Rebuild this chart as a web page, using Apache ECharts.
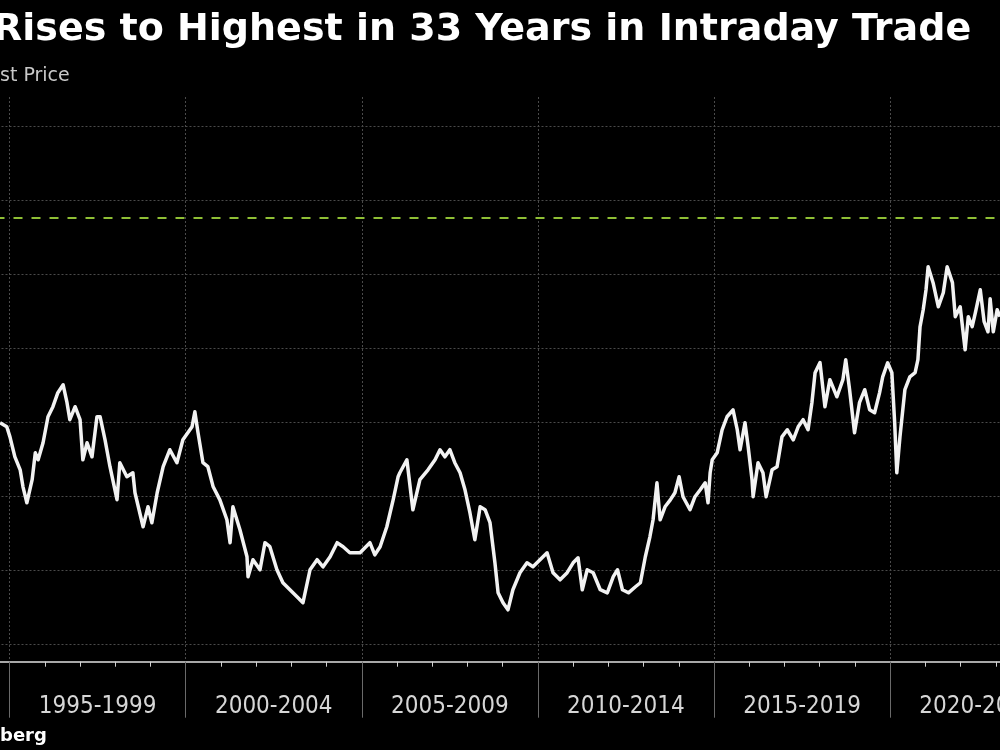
<!DOCTYPE html>
<html>
<head>
<meta charset="utf-8">
<script src="https://cdn.jsdelivr.net/npm/echarts@6/dist/echarts.min.js"></script>
<style>
html,body{margin:0;padding:0;background:#000;overflow:hidden;width:1000px;height:750px;}
#chart{position:absolute;left:-167px;top:0;width:1234px;height:750px;}
</style>
</head>
<body>
<div id="chart"></div>
<script>
// Period labels (bands of five years)
const periodLabels = ["1990-1994","1995-1999","2000-2004","2005-2009","2010-2014","2015-2019","2020-2024"];
// Horizontal grid levels
const gridLevels = [5000,10000,15000,20000,25000,30000,35000,40000];
// Intraday high reference level (dashed)
const highLevel = 33800;

// Dates as decimal years
const years = [
1994.73,1994.92,1995.01,1995.15,1995.30,1995.38,1995.49,1995.64,1995.73,1995.81,1995.95,
1996.09,1996.23,1996.37,1996.52,1996.63,1996.71,1996.86,1997.00,1997.08,1997.20,1997.34,
1997.48,1997.57,1997.71,1997.85,1998.05,1998.13,1998.33,1998.50,1998.56,1998.79,1998.93,
1999.04,1999.19,1999.36,1999.55,1999.75,1999.92,2000.18,2000.26,2000.35,2000.49,2000.63,
2000.78,2000.97,2001.17,2001.26,2001.34,2001.54,2001.74,2001.77,2001.91,2002.11,2002.25,
2002.39,2002.59,2002.76,2002.96,2003.16,2003.33,2003.53,2003.73,2003.90,2004.10,2004.30,
2004.47,2004.66,2004.95,2005.23,2005.37,2005.52,2005.71,2005.89,2006.03,2006.08,2006.28,
2006.45,2006.65,2006.88,2007.08,2007.22,2007.36,2007.50,2007.64,2007.79,2007.93,2008.07,
2008.21,2008.36,2008.50,2008.64,2008.78,2008.87,2009.01,2009.15,2009.29,2009.49,2009.69,
2009.86,2010.06,2010.26,2010.43,2010.63,2010.83,2011.00,2011.14,2011.26,2011.40,2011.57,
2011.77,2011.97,2012.14,2012.26,2012.40,2012.57,2012.77,2012.91,2013.05,2013.18,2013.27,
2013.38,2013.47,2013.61,2013.76,2013.89,2014.01,2014.12,2014.32,2014.46,2014.61,2014.75,
2014.83,2014.89,2014.95,2015.09,2015.23,2015.37,2015.54,2015.66,2015.74,2015.88,2015.97,
2016.08,2016.11,2016.25,2016.39,2016.48,2016.65,2016.79,2016.93,2017.08,2017.25,2017.39,
2017.53,2017.67,2017.78,2017.87,2018.01,2018.15,2018.29,2018.49,2018.66,2018.74,2018.85,
2018.99,2019.13,2019.28,2019.42,2019.56,2019.70,2019.79,2019.93,2020.05,2020.13,2020.19,
2020.28,2020.42,2020.56,2020.71,2020.79,2020.85,2020.94,2021.02,2021.08,2021.22,2021.37,
2021.51,2021.62,2021.77,2021.85,2021.99,2022.13,2022.22,2022.33,2022.42,2022.56,2022.67,
2022.78,2022.84,2022.93,2023.04,2023.12
];
// Last price values
const prices = [
19960,19690,19010,17660,16780,15630,14550,16110,17930,17460,18610,
20370,21050,22000,22530,21320,20170,21050,20170,17460,18610,17660,
20370,20370,18810,16990,14760,17260,16310,16580,15230,12930,14280,
13200,15230,16990,18140,17260,18810,19690,20710,19290,17260,16990,
15630,14750,13400,11850,14280,12730,10900,9550,10700,10020,11850,
11580,10020,9140,8670,8200,7790,10020,10700,10220,10900,11850,
11580,11170,11170,11850,11030,11580,12930,14750,16310,16580,17460,
14080,16110,16780,17460,18140,17660,18140,17260,16580,15430,13880,
12050,14280,14080,13200,10490,8460,7790,7310,8670,9820,10490,
10220,10700,11170,9820,9340,9820,10490,10830,8670,10020,9820,
8670,8460,9550,10020,8670,8460,8870,9140,10900,12250,13400,
15900,13400,14280,14750,15230,16310,14960,14080,14960,15430,15900,
14550,16580,17460,17930,19490,20370,20840,19490,18140,19960,18340,
16110,14960,17260,16580,14960,16790,16990,19010,19490,18810,19690,
20170,19490,21320,23350,24030,21050,22880,21720,22880,24230,22200,
19290,21320,22200,20840,20640,21990,23070,24020,23350,19960,16580,
19010,22200,23070,23350,24230,26460,27610,28960,30520,29440,27810,
28760,30520,29440,27140,27810,24900,27140,26460,27400,28960,26800,
26120,28350,26120,27610,27140
];

const chart = echarts.init(document.getElementById('chart'), null, {renderer:'canvas'});
const lineData = years.map((y,i)=>[y, prices[i]]);
const PAGE = 167; // horizontal offset of the page inside the wider chart

const option = {
  backgroundColor:'#000000',
  animation:false,
  title:{
    text:'Rises to Highest in 33 Years in Intraday Trade',
    left:PAGE-12, top:6,
    textStyle:{color:'#ffffff', fontSize:38, fontWeight:'bold', fontFamily:'DejaVu Sans'}
  },
  graphic:[
    {type:'text', left:PAGE, top:67, style:{text:'st Price', fill:'#c8c8c8', font:'19px "DejaVu Sans"'}},
    {type:'text', left:PAGE, top:727, style:{text:'berg', fill:'#ffffff', font:'bold 18px "DejaVu Sans"'}}
  ],
  grid:{left:0.5, right:0.8, top:97, bottom:88.3, containLabel:false},
  xAxis:[
    {
      type:'value', min:1990, max:2025, interval:5,
      axisLine:{show:true, lineStyle:{color:'#a8a8a8', width:2}},
      axisTick:{show:false},
      axisLabel:{show:false},
      splitLine:{show:false},
      minorTick:{show:true, splitNumber:5, length:5, lineStyle:{color:'#d0d0d0', width:1}},
      minorSplitLine:{show:false}
    },
    {
      type:'category', position:'bottom', data:periodLabels, boundaryGap:true,
      axisLine:{show:false},
      axisTick:{show:true, length:56, lineStyle:{color:'#6a6a6a', width:1}},
      axisLabel:{show:true, interval:0, margin:33, color:'#d6d6d6', fontSize:24, fontFamily:'"DejaVu Sans Condensed", "DejaVu Sans"'},
      splitLine:{show:true, interval:0, lineStyle:{color:'#4a4a4a', type:[2,2], width:1}}
    }
  ],
  yAxis:{
    type:'value', min:3800, max:42000, show:false,
    splitLine:{show:false}
  },
  series:[
    {
      type:'line', xAxisIndex:0, data:lineData, showSymbol:false, symbol:'none',
      lineStyle:{color:'#f2f2f2', width:3.5, join:'round'},
      z:5,
      markLine:{
        silent:true, symbol:'none', label:{show:false},
        data: gridLevels.map(v=>({yAxis:v, lineStyle:{color:'#4a4a4a', type:[2,2], width:1}}))
          .concat([{yAxis:highLevel, lineStyle:{color:'#8fbf35', type:[9,9], width:2}}]),
        z:1
      }
    }
  ]
};
chart.setOption(option);
</script>
</body>
</html>
